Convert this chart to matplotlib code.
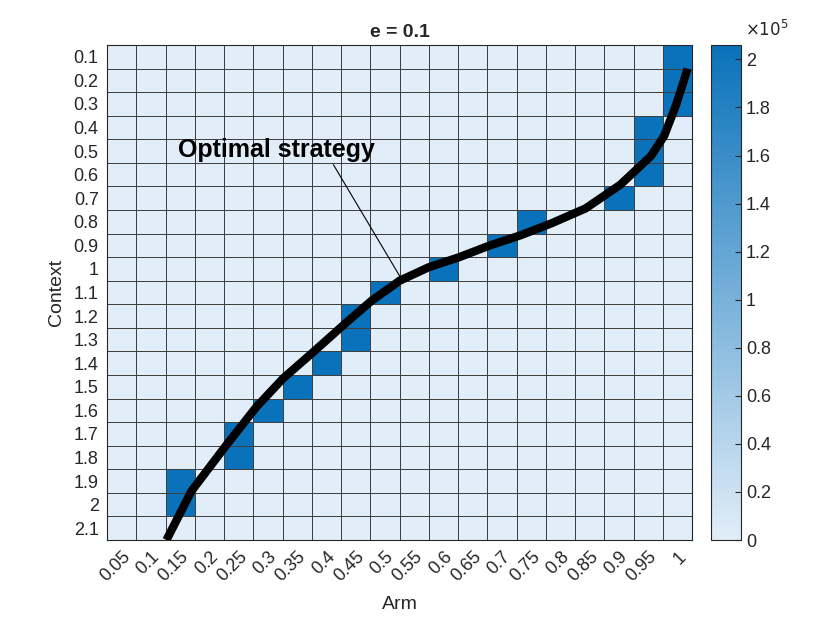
import numpy as np
import matplotlib
matplotlib.use("Agg")
import matplotlib.pyplot as plt
from matplotlib.colors import LinearSegmentedColormap
from matplotlib.ticker import FuncFormatter

plt.rcParams['font.family'] = ['Liberation Sans', 'DejaVu Sans']

arms = [0.05, 0.1, 0.15, 0.2, 0.25, 0.3, 0.35, 0.4, 0.45, 0.5,
        0.55, 0.6, 0.65, 0.7, 0.75, 0.8, 0.85, 0.9, 0.95, 1]
contexts = [0.1, 0.2, 0.3, 0.4, 0.5, 0.6, 0.7, 0.8, 0.9, 1, 1.1,
            1.2, 1.3, 1.4, 1.5, 1.6, 1.7, 1.8, 1.9, 2, 2.1]
# most pulled arm for each context (None = no dominant arm)
best_arm = [1, 1, 1, 0.95, 0.95, 0.95, 0.9, 0.75, 0.7, 0.6, 0.5,
            0.45, 0.45, 0.4, 0.35, 0.3, 0.25, 0.25, 0.15, 0.15, None]
best_pulls = [2.06e5] * 20 + [0]
other_pulls = 500

# optimal strategy curve (context -> arm)
opt_ctx = [2.15, 1.943, 1.75, 1.586, 1.464, 1.35, 1.236, 1.136, 1.05, 0.993, 0.95,
           0.9, 0.857, 0.807, 0.743, 0.643, 0.521, 0.436, 0.307, 0.207, 0.15]
opt_arm = [0.1265, 0.169, 0.228, 0.28, 0.326, 0.3785, 0.43, 0.4765, 0.525, 0.5745, 0.627,
           0.6795, 0.732, 0.784, 0.843, 0.902, 0.9545, 0.977, 0.997, 1.01, 1.017]

counts = np.full((len(contexts), len(arms)), float(other_pulls))
for i, a in enumerate(best_arm):
    if a is not None:
        counts[i, arms.index(a)] = best_pulls[i]

cmap = LinearSegmentedColormap.from_list('blues', ['#e1edf8', '#0a72ba'])

fig = plt.figure(figsize=(8.3, 6.23), dpi=100)
ax = fig.add_axes([0.129, 0.1332, 0.705, 0.7946])
cax = fig.add_axes([0.8566, 0.1332, 0.0361, 0.7946])

mesh = ax.pcolormesh(np.arange(len(arms) + 1), np.arange(len(contexts) + 1), counts,
                     cmap=cmap, vmin=0, vmax=2.06e5, edgecolors='#404040', linewidth=0.5)
ax.set_xlim(0, len(arms))
ax.set_ylim(len(contexts), 0)

# curve in cell coordinates
cx = np.array(opt_arm) / 0.05 - 0.5
cy = np.array(opt_ctx) / 0.1 - 0.5
ax.plot(cx, cy, color='black', lw=6, solid_capstyle='butt', zorder=3)

ax.annotate('Optimal strategy', xy=(10.02, 9.84), xytext=(2.43, 4.45),
            fontsize=18, fontweight='bold', va='center', ha='left',
            arrowprops=dict(arrowstyle='-', color='black', lw=0.8,
                            shrinkA=0, shrinkB=0, relpos=(0.78, 0.0)))

ax.set_xticks(np.arange(len(arms)) + 0.5)
ax.set_xticklabels([f'{a:g}' for a in arms], rotation=45, ha='right',
                   rotation_mode='anchor', fontsize=13, color='#262626')
ax.set_yticks(np.arange(len(contexts)) + 0.5)
ax.set_yticklabels([f'{c:g}' for c in contexts], fontsize=13, color='#262626')
ax.tick_params(length=0, pad=6)
for s in ax.spines.values():
    s.set_color('#262626')
    s.set_linewidth(0.8)

ax.set_xlabel('Arm', fontsize=14, color='#262626', labelpad=8)
ax.set_ylabel('Context', fontsize=14, color='#262626', labelpad=6)
ax.set_title('e = 0.1', fontsize=14, fontweight='bold', color='#262626', pad=6)

cb = fig.colorbar(mesh, cax=cax)
cb.set_ticks(np.arange(0, 2.01e5, 0.2e5))
cb.ax.yaxis.set_major_formatter(FuncFormatter(lambda v, p: f'{v / 1e5:g}'))
cb.ax.tick_params(direction='in', length=4, labelsize=13, colors='#262626', width=0.8)
cb.outline.set_edgecolor('#262626')
cb.outline.set_linewidth(0.8)
fig.text(0.898, 0.937, r'$\times10^5$', fontsize=12, color='#262626', ha='left', va='bottom')

fig.savefig('out.png', dpi=100)
